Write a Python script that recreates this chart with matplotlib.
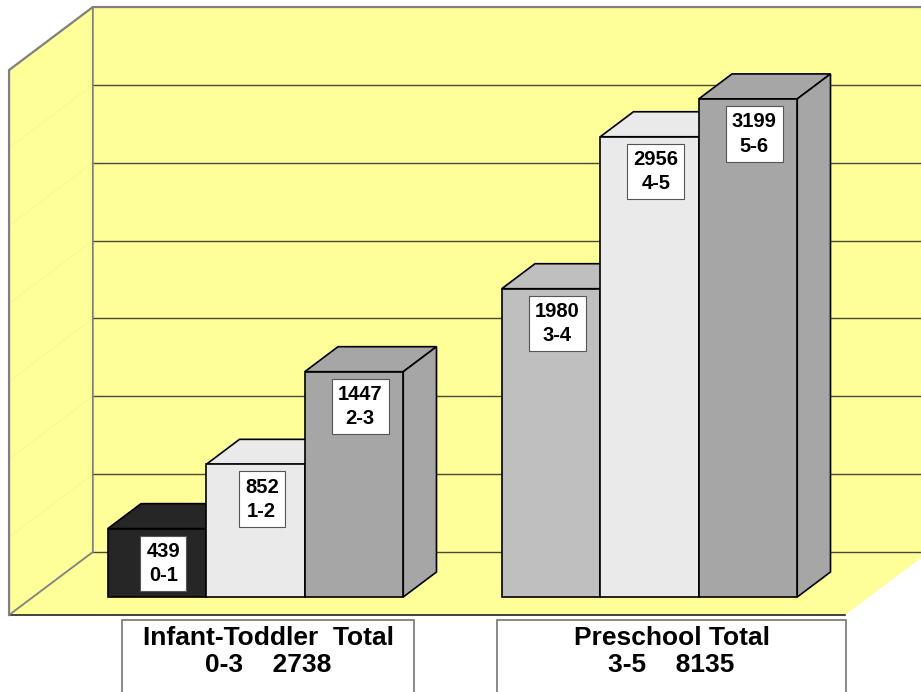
import matplotlib
matplotlib.use("Agg")
import matplotlib.pyplot as plt
from matplotlib.patches import Polygon, Rectangle

# ---- data ----
age_ranges = ["0-1", "1-2", "2-3", "3-4", "4-5", "5-6"]
counts = [439, 852, 1447, 1980, 2956, 3199]
bar_positions = [0, 1, 2, 4, 5, 6]
bar_colors = ["#262626", "#EAEAEA", "#A6A6A6", "#BFBFBF", "#EAEAEA", "#A6A6A6"]
group_titles = ["Infant-Toddler  Total", "Preschool Total"]
group_ranges = ["0-3", "3-5"]
group_totals = [2738, 8135]
grid_values = [0, 500, 1000, 1500, 2000, 2500, 3000, 3500]
wall_top = 3500

plt.rcParams['font.family'] = ['Liberation Sans', 'DejaVu Sans']

W, H = 921, 692
fig = plt.figure(figsize=(W / 100, H / 100), dpi=100)
ax = fig.add_axes([0, 0, 1, 1])
ax.set_axis_off()

# scales (pixels per data unit) used only to set the view limits
PX_X, PX_V = 98.5, 0.1557
X0PX, V0PX = 157, 597
ax.set_xlim(-X0PX / PX_X, (W - X0PX) / PX_X)
ax.set_ylim(-(H - V0PX) / PX_V, V0PX / PX_V)

# oblique depth projection
RATIO = 1.33
KX = RATIO / PX_X
KV = 1.0 / PX_V


def proj(x, v, z):
    return (x + z * KX, v + z * KV)


Z_FRONT, Z_BACK, BAR_D = -18, 45, 25
X_LEFT = -1.259
X_RIGHT = 7.23
X_FAR = 12

yellow = "#FFFF99"
edge_gray = "#808080"
grid_col = "#4a4a3a"

# floor
floor = Polygon([proj(X_LEFT, 0, Z_FRONT), proj(X_RIGHT, 0, Z_FRONT),
                 proj(X_RIGHT, 0, Z_BACK), proj(X_LEFT, 0, Z_BACK)],
                closed=True, facecolor=yellow, edgecolor="none", zorder=0)
ax.add_patch(floor)
# back wall
back = Polygon([proj(X_LEFT, 0, Z_BACK), proj(X_LEFT, wall_top, Z_BACK),
                proj(X_FAR, wall_top, Z_BACK), proj(X_FAR, 0, Z_BACK)],
               closed=True, facecolor=yellow, edgecolor="none", zorder=0)
ax.add_patch(back)
# left wall
left = Polygon([proj(X_LEFT, 0, Z_FRONT), proj(X_LEFT, wall_top, Z_FRONT),
                proj(X_LEFT, wall_top, Z_BACK), proj(X_LEFT, 0, Z_BACK)],
               closed=True, facecolor=yellow, edgecolor="none", zorder=0)
ax.add_patch(left)

# faint side-wall gridlines
for g in grid_values[1:-1]:
    p1, p2 = proj(X_LEFT, g, Z_FRONT), proj(X_LEFT, g, Z_BACK)
    ax.plot([p1[0], p2[0]], [p1[1], p2[1]], color="#F9F994", lw=0.8, zorder=0.5)

# back wall gridlines
for g in grid_values[1:-1]:
    p1, p2 = proj(X_LEFT, g, Z_BACK), proj(X_FAR, g, Z_BACK)
    ax.plot([p1[0], p2[0]], [p1[1], p2[1]], color=grid_col, lw=1.0, zorder=1)

# floor back edge
p1, p2 = proj(X_LEFT, 0, Z_BACK), proj(X_FAR, 0, Z_BACK)
ax.plot([p1[0], p2[0]], [p1[1], p2[1]], color=grid_col, lw=1.0, zorder=1)
# floor front edge
p1, p2 = proj(X_LEFT, 0, Z_FRONT), proj(X_RIGHT, 0, Z_FRONT)
ax.plot([p1[0], p2[0]], [p1[1], p2[1]], color="#222222", lw=1.2, zorder=1)

# gray wall outline
outline = [proj(X_LEFT, 0, Z_FRONT), proj(X_LEFT, wall_top, Z_FRONT),
           proj(X_LEFT, wall_top, Z_BACK), proj(X_FAR, wall_top, Z_BACK)]
ax.plot([p[0] for p in outline], [p[1] for p in outline], color=edge_gray, lw=1.6, zorder=1)
edge2 = [proj(X_LEFT, wall_top, Z_BACK), proj(X_LEFT, 0, Z_BACK), proj(X_LEFT, 0, Z_FRONT)]
ax.plot([p[0] for p in edge2], [p[1] for p in edge2], color=edge_gray, lw=1.3, zorder=1)

# bars
hw = 0.5
for i, (x, v, c) in enumerate(zip(bar_positions, counts, bar_colors)):
    zo = 3 + i
    x0, x1 = x - hw, x + hw
    top = Polygon([proj(x0, v, 0), proj(x1, v, 0), proj(x1, v, BAR_D), proj(x0, v, BAR_D)],
                  closed=True, facecolor=c, edgecolor="black", lw=1.2, zorder=zo)
    side = Polygon([proj(x1, 0, 0), proj(x1, v, 0), proj(x1, v, BAR_D), proj(x1, 0, BAR_D)],
                   closed=True, facecolor=c, edgecolor="black", lw=1.2, zorder=zo)
    ax.add_patch(top)
    ax.add_patch(side)
    ax.bar([x], [v], width=1.0, color=c, edgecolor="black", linewidth=1.2, zorder=zo + 0.1)
    ax.annotate(f"{v}\n{age_ranges[i]}", xy=(x, v), xytext=(4.5, -9.5),
                textcoords="offset points", ha="center", va="top",
                fontsize=14.5, fontweight="bold", linespacing=1.36, zorder=20,
                bbox=dict(boxstyle="square,pad=0.3", facecolor="white",
                          edgecolor="#555555", linewidth=0.8))

# group label boxes
box_x = [(-0.355, 2.61), (3.452, 6.995)]
box_top = -148
box_bottom = -900
for (bx0, bx1), title, rng, tot in zip(box_x, group_titles, group_ranges, group_totals):
    ax.add_patch(Rectangle((bx0, box_bottom), bx1 - bx0, box_top - box_bottom,
                           facecolor="white", edgecolor=edge_gray, lw=1.3, zorder=2))
    cx = (bx0 + bx1) / 2
    ax.text(cx, -350, f"{title}\n{rng}    {tot}", ha="center", va="center",
            fontsize=19, fontweight="bold", linespacing=1.15, zorder=3)

fig.savefig("out.png", dpi=100)
